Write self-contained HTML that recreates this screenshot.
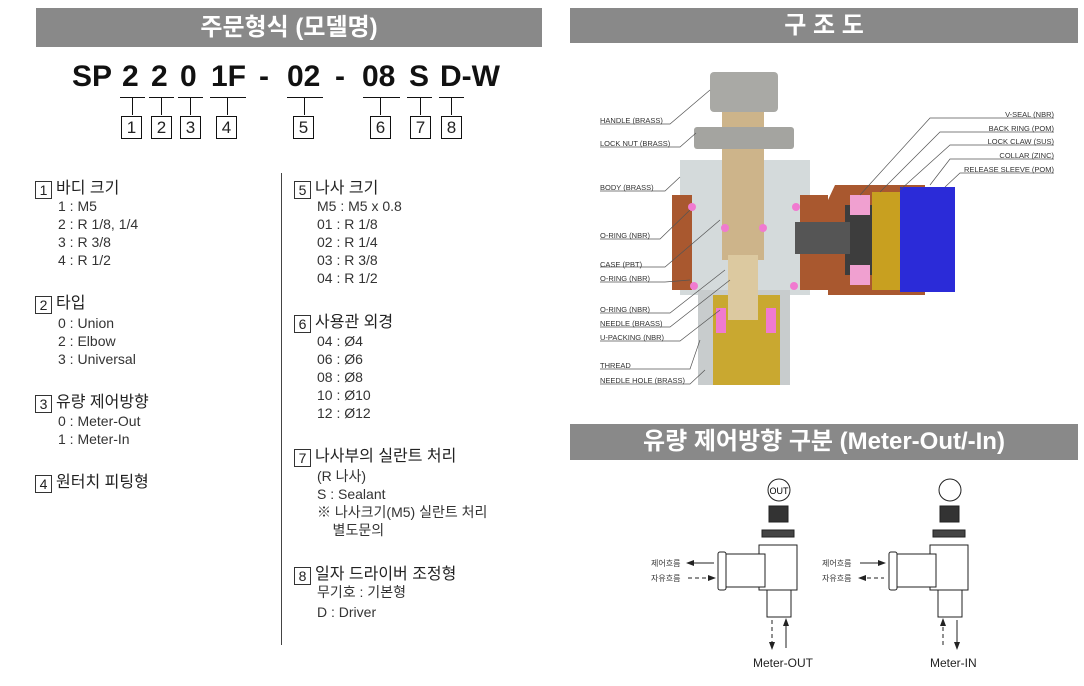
<!DOCTYPE html>
<html><head><meta charset="utf-8"><style>
body{margin:0;width:1084px;height:686px;background:#fff;position:relative;overflow:hidden;font-family:"Liberation Sans","Noto Sans CJK KR",sans-serif;color:#222}
.a{position:absolute;white-space:nowrap}
.bar{position:absolute;background:#898989;color:#fff;font-weight:bold;text-align:center;font-size:24px}
.code{font-size:30px;font-weight:bold;top:60px;color:#111}
.ul{position:absolute;height:1px;background:#111}
.vl{position:absolute;width:1px;background:#111}
.bx{position:absolute;width:19px;height:21px;border:1px solid #111;font-size:17px;text-align:center;line-height:21px;color:#222}
.h{font-size:16px;color:#222}
.h span{display:inline-block;width:15px;height:16px;border:1.5px solid #333;text-align:center;line-height:16px;font-size:14px;margin-right:4px;vertical-align:-2px}
.t{font-size:14px;color:#333}
.lb{font-size:8px;color:#333}
</style></head><body>
<div class="bar" style="left:36px;top:8px;width:506px;height:39px;line-height:39px">주문형식 (모델명)</div>
<div class="bar" style="left:570px;top:8px;width:508px;height:35px;line-height:35px">구 조 도</div>
<div class="bar" style="left:570px;top:424px;width:508px;height:36px;line-height:36px">유량 제어방향 구분 (Meter-Out/-In)</div>

<div class="a code" style="left:72px">SP</div>
<div class="a code" style="left:122px">2</div>
<div class="a code" style="left:151px">2</div>
<div class="a code" style="left:180px">0</div>
<div class="a code" style="left:211px">1F</div>
<div class="a code" style="left:259px">-</div>
<div class="a code" style="left:287px">02</div>
<div class="a code" style="left:335px">-</div>
<div class="a code" style="left:362px">08</div>
<div class="a code" style="left:409px">S</div>
<div class="a code" style="left:440px">D-W</div>

<div class="ul" style="left:120px;top:97px;width:25px"></div><div class="vl" style="left:132px;top:97px;height:18px"></div>
<div class="ul" style="left:149px;top:97px;width:25px"></div><div class="vl" style="left:161px;top:97px;height:18px"></div>
<div class="ul" style="left:178px;top:97px;width:25px"></div><div class="vl" style="left:190px;top:97px;height:18px"></div>
<div class="ul" style="left:210px;top:97px;width:36px"></div><div class="vl" style="left:227px;top:97px;height:18px"></div>
<div class="ul" style="left:287px;top:97px;width:36px"></div><div class="vl" style="left:304px;top:97px;height:18px"></div>
<div class="ul" style="left:363px;top:97px;width:37px"></div><div class="vl" style="left:380px;top:97px;height:18px"></div>
<div class="ul" style="left:407px;top:97px;width:25px"></div><div class="vl" style="left:420px;top:97px;height:18px"></div>
<div class="ul" style="left:439px;top:97px;width:25px"></div><div class="vl" style="left:451px;top:97px;height:18px"></div>
<div class="bx" style="left:121px;top:116px">1</div>
<div class="bx" style="left:151px;top:116px">2</div>
<div class="bx" style="left:180px;top:116px">3</div>
<div class="bx" style="left:216px;top:116px">4</div>
<div class="bx" style="left:293px;top:116px">5</div>
<div class="bx" style="left:370px;top:116px">6</div>
<div class="bx" style="left:410px;top:116px">7</div>
<div class="bx" style="left:441px;top:116px">8</div>

<div class="vl" style="left:281px;top:173px;height:472px;background:#444"></div>

<div class="a h" style="left:35px;top:174px"><span>1</span>바디 크기</div>
<div class="a t" style="left:58px;top:197px;line-height:18px">1 : M5<br>2 : R 1/8, 1/4<br>3 : R 3/8<br>4 : R 1/2</div>
<div class="a h" style="left:35px;top:289px"><span>2</span>타입</div>
<div class="a t" style="left:58px;top:314px;line-height:18px">0 : Union<br>2 : Elbow<br>3 : Universal</div>
<div class="a h" style="left:35px;top:388px"><span>3</span>유량 제어방향</div>
<div class="a t" style="left:58px;top:412px;line-height:18px">0 : Meter-Out<br>1 : Meter-In</div>
<div class="a h" style="left:35px;top:468px"><span>4</span>원터치 피팅형</div>

<div class="a h" style="left:294px;top:174px"><span>5</span>나사 크기</div>
<div class="a t" style="left:317px;top:197px;line-height:18px">M5 : M5 x 0.8<br>01 : R 1/8<br>02 : R 1/4<br>03 : R 3/8<br>04 : R 1/2</div>
<div class="a h" style="left:294px;top:308px"><span>6</span>사용관 외경</div>
<div class="a t" style="left:317px;top:332px;line-height:18px">04 : Ø4<br>06 : Ø6<br>08 : Ø8<br>10 : Ø10<br>12 : Ø12</div>
<div class="a h" style="left:294px;top:442px"><span>7</span>나사부의 실란트 처리</div>
<div class="a t" style="left:317px;top:467px;line-height:18px">(R 나사)<br>S : Sealant<br>※ 나사크기(M5) 실란트 처리<br>&nbsp;&nbsp;&nbsp;&nbsp;별도문의</div>
<div class="a h" style="left:294px;top:560px"><span>8</span>일자 드라이버 조정형</div>
<div class="a t" style="left:317px;top:582px;line-height:20px">무기호 : 기본형<br>D : Driver</div>

<svg class="a" style="left:0;top:0" width="1084" height="686">
<g stroke="none">
<rect x="680" y="160" width="130" height="135" fill="#d4dadb"/>
<rect x="698" y="290" width="92" height="95" fill="#c8cccd"/>
<rect x="672" y="195" width="20" height="95" fill="#a9582f"/>
<rect x="800" y="195" width="28" height="95" fill="#a9582f"/>
<polygon points="828,200 835,185 925,185 925,295 828,295" fill="#a9582f"/>
<rect x="845" y="205" width="60" height="70" fill="#3d3d3d"/>
<rect x="850" y="195" width="20" height="20" fill="#f0a0d0"/>
<rect x="850" y="265" width="20" height="20" fill="#f0a0d0"/>
<rect x="872" y="192" width="30" height="98" fill="#c8a020"/>
<rect x="900" y="187" width="55" height="105" fill="#2b2bd8"/>
<rect x="795" y="222" width="55" height="32" fill="#555"/>
<rect x="713" y="295" width="67" height="90" fill="#c9a830"/>
<rect x="722" y="110" width="42" height="150" fill="#cdb48a"/>
<rect x="728" y="255" width="30" height="65" fill="#dcc9a0"/>
<rect x="710" y="72" width="68" height="40" rx="4" fill="#a9a9a5"/>
<rect x="694" y="127" width="100" height="22" rx="3" fill="#a4a4a0"/>
<rect x="716" y="308" width="10" height="25" fill="#f07ad0"/>
<rect x="766" y="308" width="10" height="25" fill="#f07ad0"/>
<circle cx="692" cy="207" r="4" fill="#f07ad0"/><circle cx="796" cy="207" r="4" fill="#f07ad0"/>
<circle cx="725" cy="228" r="4" fill="#f07ad0"/><circle cx="763" cy="228" r="4" fill="#f07ad0"/>
<circle cx="694" cy="286" r="4" fill="#f07ad0"/><circle cx="794" cy="286" r="4" fill="#f07ad0"/>
</g>
<g stroke="#555" stroke-width="0.7" fill="none">
<path d="M600 124H670L710 90"/><path d="M600 147H680L696 133"/><path d="M600 191H665L680 177"/>
<path d="M600 239H660L690 210"/><path d="M600 267H665L720 220"/><path d="M600 282H665L690 280"/>
<path d="M600 313H670L725 270"/><path d="M600 327H670L730 280"/><path d="M600 341H680L720 310"/>
<path d="M600 369H690L700 340"/><path d="M600 384H690L705 370"/>
<path d="M1054 118H930L860 195"/><path d="M1054 132H940L880 192"/><path d="M1054 145H950L900 190"/><path d="M1054 159H950L930 185"/><path d="M1054 173H960L945 187"/>
</g>
<g font-family="Liberation Sans,sans-serif" font-size="7.5" fill="#333">
<text x="600" y="123">HANDLE (BRASS)</text><text x="600" y="146">LOCK NUT (BRASS)</text><text x="600" y="190">BODY (BRASS)</text>
<text x="600" y="238">O-RING (NBR)</text><text x="600" y="267">CASE (PBT)</text><text x="600" y="281">O-RING (NBR)</text>
<text x="600" y="312">O-RING (NBR)</text><text x="600" y="326">NEEDLE (BRASS)</text><text x="600" y="340">U-PACKING (NBR)</text>
<text x="600" y="368">THREAD</text><text x="600" y="383">NEEDLE HOLE (BRASS)</text>
<g text-anchor="end"><text x="1054" y="117">V-SEAL (NBR)</text><text x="1054" y="131">BACK RING (POM)</text><text x="1054" y="144">LOCK CLAW (SUS)</text><text x="1054" y="158">COLLAR (ZINC)</text><text x="1054" y="172">RELEASE SLEEVE (POM)</text></g>
</g>
<!-- bottom diagrams -->
<g stroke="#222" stroke-width="1" fill="#fff">
<circle cx="779" cy="490" r="11"/><circle cx="950" cy="490" r="11"/>
<rect x="769" y="506" width="19" height="16" fill="#333"/><rect x="940" y="506" width="19" height="16" fill="#333"/>
<rect x="762" y="530" width="32" height="7" fill="#444"/><rect x="933" y="530" width="32" height="7" fill="#444"/>
<rect x="759" y="545" width="38" height="45"/><rect x="930" y="545" width="38" height="45"/>
<rect x="725" y="554" width="40" height="33"/><rect x="896" y="554" width="40" height="33"/>
<rect x="718" y="552" width="8" height="38" rx="2"/><rect x="889" y="552" width="8" height="38" rx="2"/>
<rect x="767" y="590" width="24" height="27"/><rect x="938" y="590" width="24" height="27"/>
</g>
<text x="779" y="494" font-size="9" text-anchor="middle" font-family="Liberation Sans">OUT</text>
<g stroke="#222" stroke-width="1">
<line x1="688" y1="563" x2="714" y2="563"/><line x1="688" y1="578" x2="714" y2="578" stroke-dasharray="4,3"/>
<line x1="860" y1="563" x2="884" y2="563"/><line x1="860" y1="578" x2="884" y2="578" stroke-dasharray="4,3"/>
<line x1="772" y1="620" x2="772" y2="648" stroke-dasharray="4,3"/><line x1="786" y1="620" x2="786" y2="648"/>
<line x1="943" y1="620" x2="943" y2="648" stroke-dasharray="4,3"/><line x1="957" y1="620" x2="957" y2="648"/>
</g>
<g fill="#222">
<polygon points="686,563 694,560 694,566"/><polygon points="716,578 708,575 708,581"/>
<polygon points="886,563 878,560 878,566"/><polygon points="858,578 866,575 866,581"/>
<polygon points="772,650 769,642 775,642"/><polygon points="786,618 783,626 789,626"/>
<polygon points="943,618 940,626 946,626"/><polygon points="957,650 954,642 960,642"/>
</g>
<g font-family="Liberation Sans,Noto Sans CJK KR,sans-serif" font-size="8" fill="#333">
<text x="651" y="566">제어흐름</text><text x="651" y="581">자유흐름</text>
<text x="822" y="566">제어흐름</text><text x="822" y="581">자유흐름</text>
</g>
<g font-family="Liberation Sans,sans-serif" font-size="12" fill="#222">
<text x="753" y="667">Meter-OUT</text><text x="930" y="667">Meter-IN</text>
</g>
</svg>
</body></html>
